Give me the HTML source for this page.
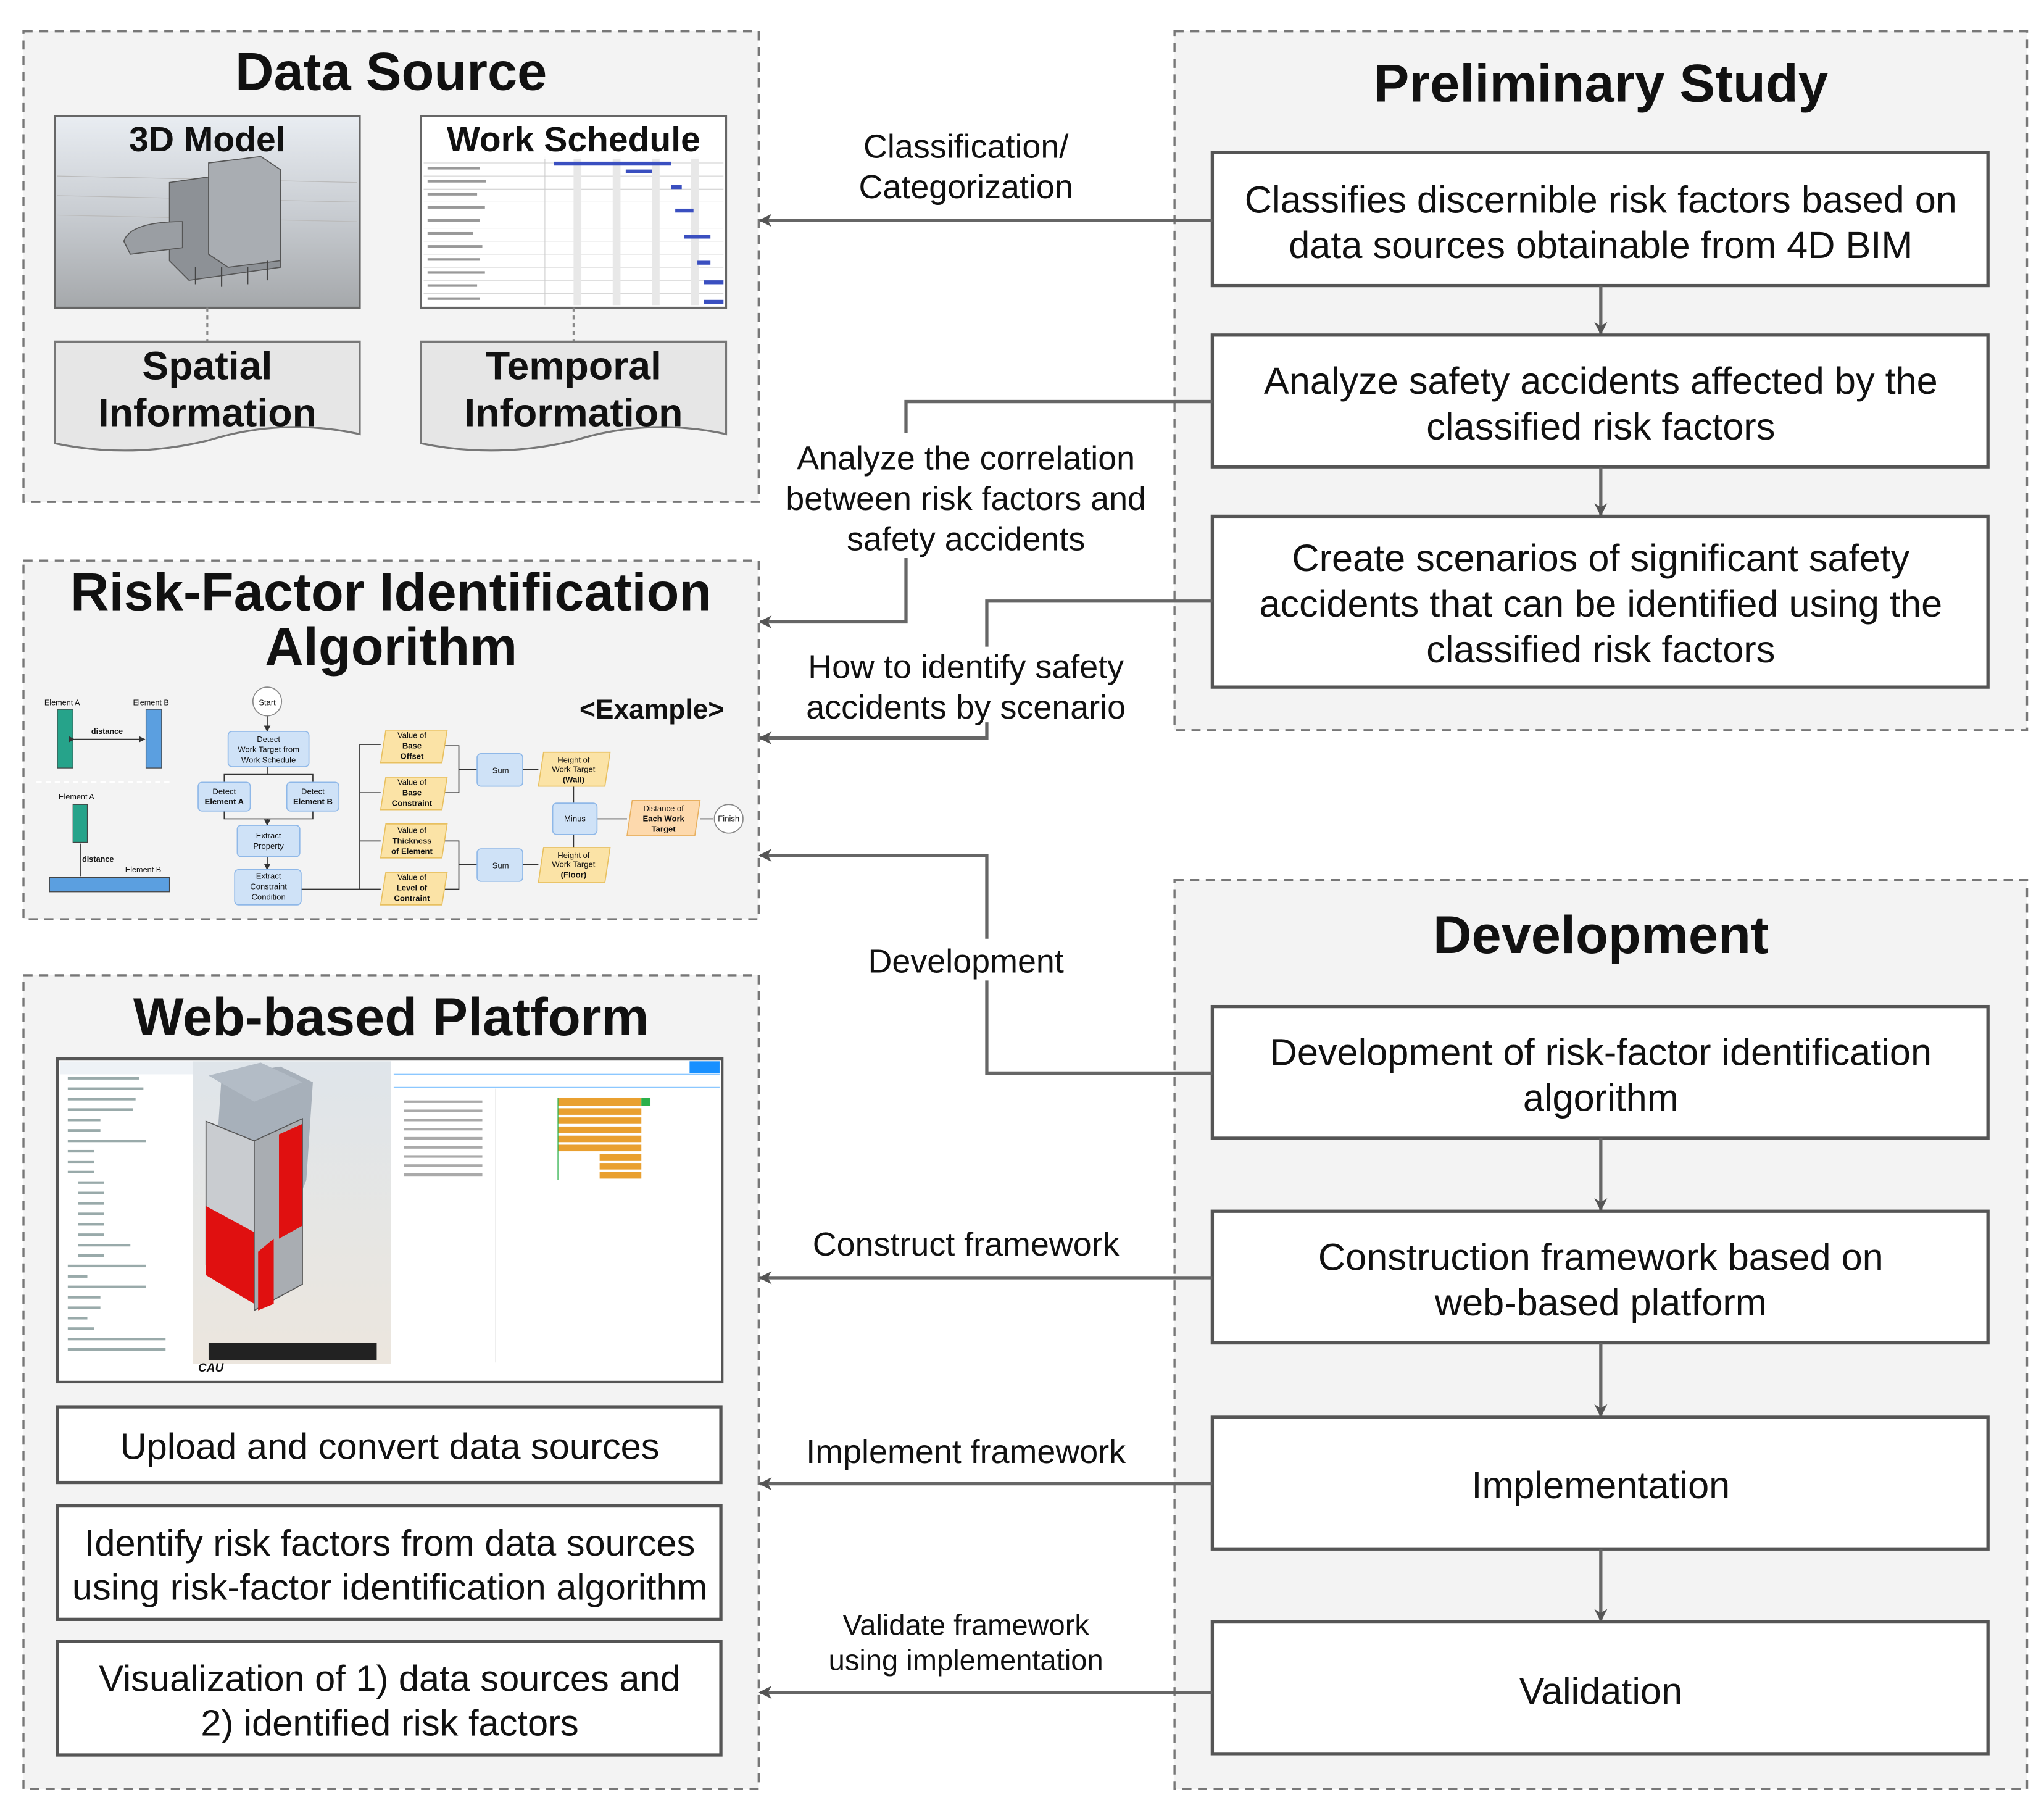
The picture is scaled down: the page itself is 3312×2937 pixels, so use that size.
<!DOCTYPE html>
<html><head><meta charset="utf-8"><style>
html,body{margin:0;padding:0;background:#fff}
svg{display:block}
text{font-family:"Liberation Sans",Arial,sans-serif;fill:#111}
</style></head><body>
<svg width="3312" height="2937" viewBox="0 0 1568 1390.5" preserveAspectRatio="none" xmlns="http://www.w3.org/2000/svg">
<defs>
<marker id="ah" markerWidth="10" markerHeight="10" refX="9" refY="5" orient="auto" markerUnits="userSpaceOnUse"><path d="M0,0 L10,5 L0,10 L3,5 z" fill="#555"/></marker>
<marker id="sa" markerWidth="5" markerHeight="5" refX="4.5" refY="2.5" orient="auto" markerUnits="userSpaceOnUse"><path d="M0,0 L5,2.5 L0,5 z" fill="#333"/></marker>
<linearGradient id="g3d" x1="0" y1="0" x2="0" y2="1"><stop offset="0" stop-color="#e9edf2"/><stop offset="0.5" stop-color="#c9cdd2"/><stop offset="1" stop-color="#a5a8ab"/></linearGradient>
<linearGradient id="gmid" x1="0" y1="0" x2="0" y2="1"><stop offset="0" stop-color="#dfe5ea"/><stop offset="1" stop-color="#ece6de"/></linearGradient>
</defs>
<g stroke="#777" stroke-width="1.6" stroke-dasharray="7,5" fill="#f3f3f3">
<rect x="18" y="24" width="564" height="361"/>
<rect x="18" y="430" width="564" height="275"/>
<rect x="18" y="748" width="564" height="624"/>
<rect x="901" y="24" width="654" height="536"/>
<rect x="901" y="675" width="654" height="697"/>
</g>
<g font-weight="bold" text-anchor="middle">
<text x="300" y="69" font-size="41">Data Source</text>
<text x="300" y="468" font-size="41">Risk-Factor Identification</text>
<text x="300" y="510" font-size="41">Algorithm</text>
<text x="300" y="794" font-size="41">Web-based Platform</text>
<text x="1228" y="78" font-size="41">Preliminary Study</text>
<text x="1228" y="731" font-size="41">Development</text>
</g>
<!-- 3D model -->
<rect x="42" y="89" width="234" height="147" fill="url(#g3d)" stroke="#666" stroke-width="1.5"/>
<g stroke="#bbb" stroke-width="0.6">
<line x1="44" y1="135" x2="274" y2="140"/><line x1="44" y1="150" x2="274" y2="155"/><line x1="44" y1="165" x2="274" y2="170"/>
</g>
<polygon points="130,140 200,130 215,145 215,205 145,215 130,200" fill="#8d9196" stroke="#555" stroke-width="0.8"/>
<polygon points="160,125 200,120 215,130 215,200 175,205 160,195" fill="#a9adb2" stroke="#555" stroke-width="0.8"/>
<path d="M95,185 Q100,170 140,170 L140,190 L100,195 Z" fill="#9a9ea3" stroke="#555" stroke-width="0.8"/>
<g stroke="#444" stroke-width="1"><line x1="150" y1="205" x2="150" y2="218"/><line x1="170" y1="205" x2="170" y2="220"/><line x1="190" y1="205" x2="190" y2="218"/><line x1="205" y1="200" x2="205" y2="215"/></g>
<text x="159" y="116" font-size="27" font-weight="bold" text-anchor="middle">3D Model</text>
<!-- Work schedule -->
<rect x="323" y="89" width="234" height="147" fill="#fff" stroke="#666" stroke-width="1.5"/>
<g stroke="#ccc" stroke-width="0.5">
<line x1="325" y1="125" x2="555" y2="125"/><line x1="325" y1="135" x2="555" y2="135"/><line x1="325" y1="145" x2="555" y2="145"/><line x1="325" y1="155" x2="555" y2="155"/><line x1="325" y1="165" x2="555" y2="165"/><line x1="325" y1="175" x2="555" y2="175"/><line x1="325" y1="185" x2="555" y2="185"/><line x1="325" y1="195" x2="555" y2="195"/><line x1="325" y1="205" x2="555" y2="205"/><line x1="325" y1="215" x2="555" y2="215"/><line x1="325" y1="225" x2="555" y2="225"/>
<line x1="418" y1="120" x2="418" y2="234"/>
</g>
<g fill="#e8e8e8"><rect x="440" y="120" width="6" height="114"/><rect x="470" y="120" width="6" height="114"/><rect x="500" y="120" width="6" height="114"/><rect x="530" y="120" width="6" height="114"/></g>
<g fill="#3a4fc0"><rect x="425" y="124" width="90" height="3"/><rect x="480" y="130" width="20" height="3"/><rect x="515" y="142" width="8" height="3"/><rect x="518" y="160" width="14" height="3"/><rect x="525" y="180" width="20" height="3"/><rect x="535" y="200" width="10" height="3"/><rect x="540" y="215" width="15" height="3"/><rect x="540" y="230" width="15" height="3"/></g>
<g fill="#999"><rect x="328" y="128" width="40" height="2"/><rect x="328" y="138" width="45" height="2"/><rect x="328" y="148" width="38" height="2"/><rect x="328" y="158" width="44" height="2"/><rect x="328" y="168" width="40" height="2"/><rect x="328" y="178" width="35" height="2"/><rect x="328" y="188" width="42" height="2"/><rect x="328" y="198" width="40" height="2"/><rect x="328" y="208" width="44" height="2"/><rect x="328" y="218" width="38" height="2"/><rect x="328" y="228" width="40" height="2"/></g>
<rect x="330" y="92" width="220" height="30" fill="#fff" opacity="0.85"/>
<text x="440" y="116" font-size="27" font-weight="bold" text-anchor="middle">Work Schedule</text>
<g stroke="#888" stroke-width="1.5" stroke-dasharray="3,3"><line x1="159" y1="236" x2="159" y2="262"/><line x1="440" y1="236" x2="440" y2="262"/></g>
<!-- Document shapes -->
<path d="M42,262 H276 V333 Q217,320 159,338 Q100,352 42,340 Z" fill="#e6e6e6" stroke="#777" stroke-width="1.5"/>
<path d="M323,262 H557 V333 Q498,320 440,338 Q381,352 323,340 Z" fill="#e6e6e6" stroke="#777" stroke-width="1.5"/>
<g font-size="30.5" font-weight="bold" text-anchor="middle">
<text x="159" y="291">Spatial</text><text x="159" y="327">Information</text>
<text x="440" y="291">Temporal</text><text x="440" y="327">Information</text>
</g>
<!-- Algorithm example -->
<text x="500" y="551" font-size="21" font-weight="bold" text-anchor="middle">&lt;Example&gt;</text>
<g font-size="6" fill="#333">
<text x="34" y="541">Element A</text><text x="102" y="541">Element B</text>
<text x="45" y="613">Element A</text><text x="96" y="669">Element B</text>
<text x="70" y="563" font-weight="bold">distance</text><text x="63" y="661" font-weight="bold">distance</text>
</g>
<rect x="44" y="544" width="12" height="45" fill="#26a38a" stroke="#444" stroke-width="0.6"/>
<rect x="112" y="544" width="12" height="45" fill="#5b9fe0" stroke="#444" stroke-width="0.6"/>
<line x1="57" y1="567" x2="111" y2="567" stroke="#333" stroke-width="0.8" marker-end="url(#sa)" marker-start="url(#sa)"/>
<line x1="28" y1="600" x2="130" y2="600" stroke="#fff" stroke-width="1.5" stroke-dasharray="4,3"/>
<rect x="56" y="617" width="11" height="29" fill="#26a38a" stroke="#444" stroke-width="0.6"/>
<rect x="38" y="673" width="92" height="11" fill="#5b9fe0" stroke="#444" stroke-width="0.6"/>
<line x1="62" y1="647" x2="62" y2="672" stroke="#333" stroke-width="0.8"/>
<g stroke="#333" stroke-width="0.8" fill="none">
<line x1="205" y1="549" x2="205" y2="561" marker-end="url(#sa)"/>
<path d="M205,588 V594 H172 V600 M205,594 H240 V600"/>
<path d="M172,622 V628 H240 V622 M205,628 V633" marker-end="url(#sa)"/>
<line x1="205" y1="657" x2="205" y2="667" marker-end="url(#sa)"/>
<path d="M231,682 H276 V571 H292 M276,608 H292 M276,645 H292 M276,682 H292"/>
<path d="M338,572 H352 V608 H338 M352,590 H366 M338,645 H352 V682 H338 M352,663 H366"/>
<path d="M401,590 H413 M401,663 H413 M440,603 V616 M440,650 V640 M458,628 H481 M537,628 H547"/>
</g>
<circle cx="205" cy="538" r="11" fill="#fff" stroke="#888" stroke-width="0.8"/>
<circle cx="559" cy="628" r="11" fill="#fff" stroke="#888" stroke-width="0.8"/>
<g fill="#cfe2f7" stroke="#8fb8e8" stroke-width="0.8">
<rect x="175" y="561" width="62" height="27" rx="3"/>
<rect x="152" y="600" width="40" height="22" rx="3"/><rect x="220" y="600" width="40" height="22" rx="3"/>
<rect x="182" y="633" width="48" height="24" rx="3"/><rect x="180" y="667" width="51" height="27" rx="3"/>
<rect x="366" y="578" width="35" height="25" rx="3"/><rect x="366" y="651" width="35" height="25" rx="3"/>
<rect x="424" y="616" width="34" height="24" rx="3"/>
</g>
<g fill="#fbe3a6" stroke="#e8c060" stroke-width="0.8">
<polygon points="296,560 343,560 339,585 292,585"/><polygon points="296,596 343,596 339,621 292,621"/>
<polygon points="296,632 343,632 339,658 292,658"/><polygon points="296,669 343,669 339,694 292,694"/>
<polygon points="417,577 468,577 464,603 413,603"/><polygon points="417,650 468,650 464,677 413,677"/>
</g>
<polygon points="485,614 537,614 533,641 481,641" fill="#fdd9ad" stroke="#e8b060" stroke-width="0.8"/>
<g font-size="6.2" text-anchor="middle" fill="#333">
<text x="205" y="541">Start</text><text x="559" y="630">Finish</text>
<text x="206" y="569">Detect</text><text x="206" y="577">Work Target from</text><text x="206" y="585">Work Schedule</text>
<text x="172" y="609">Detect</text><text x="172" y="617" font-weight="bold">Element A</text>
<text x="240" y="609">Detect</text><text x="240" y="617" font-weight="bold">Element B</text>
<text x="206" y="643">Extract</text><text x="206" y="651">Property</text>
<text x="206" y="674">Extract</text><text x="206" y="682">Constraint</text><text x="206" y="690">Condition</text>
<text x="316" y="566">Value of</text><text x="316" y="574" font-weight="bold">Base</text><text x="316" y="582" font-weight="bold">Offset</text>
<text x="316" y="602">Value of</text><text x="316" y="610" font-weight="bold">Base</text><text x="316" y="618" font-weight="bold">Constraint</text>
<text x="316" y="639">Value of</text><text x="316" y="647" font-weight="bold">Thickness</text><text x="316" y="655" font-weight="bold">of Element</text>
<text x="316" y="675">Value of</text><text x="316" y="683" font-weight="bold">Level of</text><text x="316" y="691" font-weight="bold">Contraint</text>
<text x="384" y="593">Sum</text><text x="384" y="666">Sum</text><text x="441" y="630">Minus</text>
<text x="440" y="585">Height of</text><text x="440" y="592">Work Target</text><text x="440" y="600" font-weight="bold">(Wall)</text>
<text x="440" y="658">Height of</text><text x="440" y="665">Work Target</text><text x="440" y="673" font-weight="bold">(Floor)</text>
<text x="509" y="622">Distance of</text><text x="509" y="630" font-weight="bold">Each Work</text><text x="509" y="638" font-weight="bold">Target</text>
</g>
<!-- Web screenshot -->
<rect x="44" y="812" width="510" height="248" fill="#fff" stroke="#555" stroke-width="2"/>
<rect x="46" y="814" width="102" height="10" fill="#eef2f6"/>
<g fill="#9aa" >
<rect x="52" y="826" width="55" height="2"/><rect x="52" y="834" width="58" height="2"/><rect x="52" y="842" width="52" height="2"/><rect x="52" y="850" width="50" height="2"/><rect x="52" y="858" width="25" height="2"/><rect x="52" y="866" width="25" height="2"/><rect x="52" y="874" width="60" height="2"/><rect x="52" y="882" width="20" height="2"/><rect x="52" y="890" width="20" height="2"/><rect x="52" y="898" width="20" height="2"/><rect x="60" y="906" width="20" height="2"/><rect x="60" y="914" width="20" height="2"/><rect x="60" y="922" width="20" height="2"/><rect x="60" y="930" width="20" height="2"/><rect x="60" y="938" width="20" height="2"/><rect x="60" y="946" width="20" height="2"/><rect x="60" y="954" width="40" height="2"/><rect x="60" y="962" width="20" height="2"/><rect x="52" y="970" width="60" height="2"/><rect x="52" y="978" width="15" height="2"/><rect x="52" y="986" width="60" height="2"/><rect x="52" y="994" width="25" height="2"/><rect x="52" y="1002" width="25" height="2"/><rect x="52" y="1010" width="15" height="2"/><rect x="52" y="1018" width="20" height="2"/><rect x="52" y="1026" width="75" height="2"/><rect x="52" y="1034" width="75" height="2"/>
</g>
<rect x="148" y="814" width="152" height="232" fill="url(#gmid)"/>
<polygon points="170,825 215,818 240,830 235,905 225,930 165,900" fill="#a7b0ba"/>
<polygon points="158,860 195,875 195,990 158,970" fill="#c9ccd0" stroke="#555" stroke-width="0.8"/>
<polygon points="195,875 232,858 232,985 195,1005" fill="#a9adb2" stroke="#555" stroke-width="0.8"/>
<polygon points="158,925 195,945 195,1000 158,978" fill="#e01010"/>
<polygon points="214,870 232,862 232,940 214,950" fill="#e01010"/>
<polygon points="198,960 210,950 210,1000 198,1005" fill="#e01010"/>
<polygon points="160,825 200,815 232,830 195,845" fill="#b3bcc6"/>
<rect x="160" y="1030" width="129" height="13" fill="#222"/>
<text x="152" y="1052" font-size="9" font-style="italic" font-weight="bold" fill="#1a70c0">CAU</text>
<rect x="300" y="814" width="252" height="244" fill="#fff"/>
<rect x="529" y="814" width="23" height="9" fill="#1890ff"/>
<line x1="302" y1="824" x2="552" y2="824" stroke="#8cc8ff" stroke-width="0.8"/>
<line x1="302" y1="834" x2="552" y2="834" stroke="#8cc8ff" stroke-width="0.8"/>
<line x1="380" y1="835" x2="380" y2="1045" stroke="#eee" stroke-width="0.6"/>
<g fill="#aaa"><rect x="310" y="844" width="60" height="2"/><rect x="310" y="851" width="60" height="2"/><rect x="310" y="858" width="60" height="2"/><rect x="310" y="865" width="60" height="2"/><rect x="310" y="872" width="60" height="2"/><rect x="310" y="879" width="60" height="2"/><rect x="310" y="886" width="60" height="2"/><rect x="310" y="893" width="60" height="2"/><rect x="310" y="900" width="60" height="2"/></g>
<g fill="#e9a030"><rect x="428" y="842" width="64" height="6"/><rect x="428" y="850" width="64" height="5"/><rect x="428" y="857" width="64" height="5"/><rect x="428" y="864" width="64" height="5"/><rect x="428" y="871" width="64" height="5"/><rect x="428" y="878" width="64" height="5"/><rect x="460" y="885" width="32" height="5"/><rect x="460" y="892" width="32" height="5"/><rect x="460" y="899" width="32" height="5"/></g>
<rect x="492" y="842" width="7" height="6" fill="#2cb04a"/>
<line x1="428" y1="842" x2="428" y2="905" stroke="#2cb04a" stroke-width="0.6"/>
<!-- boxes -->
<g fill="#fff" stroke="#555" stroke-width="2.5">
<rect x="44" y="1079" width="509" height="58"/>
<rect x="44" y="1155" width="509" height="87"/>
<rect x="44" y="1259" width="509" height="87"/>
<rect x="930" y="117" width="595" height="102"/>
<rect x="930" y="257" width="595" height="101"/>
<rect x="930" y="396" width="595" height="131"/>
<rect x="930" y="772" width="595" height="101"/>
<rect x="930" y="929" width="595" height="101"/>
<rect x="930" y="1087" width="595" height="101"/>
<rect x="930" y="1244" width="595" height="101"/>
</g>
<g font-size="28.2" text-anchor="middle">
<text x="299" y="1119">Upload and convert data sources</text>
<text x="299" y="1193">Identify risk factors from data sources</text>
<text x="299" y="1227">using risk-factor identification algorithm</text>
<text x="299" y="1297">Visualization of 1) data sources and</text>
<text x="299" y="1331">2) identified risk factors</text>
</g>
<g font-size="29" text-anchor="middle">
<text x="1228" y="163">Classifies discernible risk factors based on</text>
<text x="1228" y="198">data sources obtainable from 4D BIM</text>
<text x="1228" y="302">Analyze safety accidents affected by the</text>
<text x="1228" y="337">classified risk factors</text>
<text x="1228" y="438">Create scenarios of significant safety</text>
<text x="1228" y="473">accidents that can be identified using the</text>
<text x="1228" y="508">classified risk factors</text>
<text x="1228" y="817">Development of risk-factor identification</text>
<text x="1228" y="852">algorithm</text>
<text x="1228" y="974">Construction framework based on</text>
<text x="1228" y="1009">web-based platform</text>
<text x="1228" y="1149">Implementation</text>
<text x="1228" y="1307">Validation</text>
</g>
<!-- connectors -->
<g stroke="#666" stroke-width="2.5" fill="none" marker-end="url(#ah)">
<line x1="1228" y1="219" x2="1228" y2="256"/>
<line x1="1228" y1="358" x2="1228" y2="395"/>
<line x1="1228" y1="873" x2="1228" y2="928"/>
<line x1="1228" y1="1030" x2="1228" y2="1086"/>
<line x1="1228" y1="1188" x2="1228" y2="1243"/>
<line x1="930" y1="169" x2="583" y2="169"/>
<path d="M930,308 H695 V477 H583"/>
<path d="M930,461 H757 V566 H583"/>
<path d="M930,823 H757 V656 H583"/>
<line x1="930" y1="980" x2="583" y2="980"/>
<line x1="930" y1="1138" x2="583" y2="1138"/>
<line x1="930" y1="1298" x2="583" y2="1298"/>
</g>
<g font-size="25.5" text-anchor="middle">
<rect x="600" y="720" width="290" height="32" fill="#fff"/>
<rect x="600" y="332" width="290" height="96" fill="#fff"/>
<rect x="610" y="496" width="262" height="58" fill="#fff"/>
<text x="741" y="121">Classification/</text><text x="741" y="152">Categorization</text>
<text x="741" y="360">Analyze the correlation</text><text x="741" y="391">between risk factors and</text><text x="741" y="422">safety accidents</text>
<text x="741" y="520">How to identify safety</text><text x="741" y="551">accidents by scenario</text>
<text x="741" y="746">Development</text>
<text x="741" y="963">Construct framework</text>
<text x="741" y="1122">Implement framework</text>
<text x="741" y="1254" font-size="22.3">Validate framework</text><text x="741" y="1281" font-size="22.3">using implementation</text>
</g>
</svg>
</body></html>
